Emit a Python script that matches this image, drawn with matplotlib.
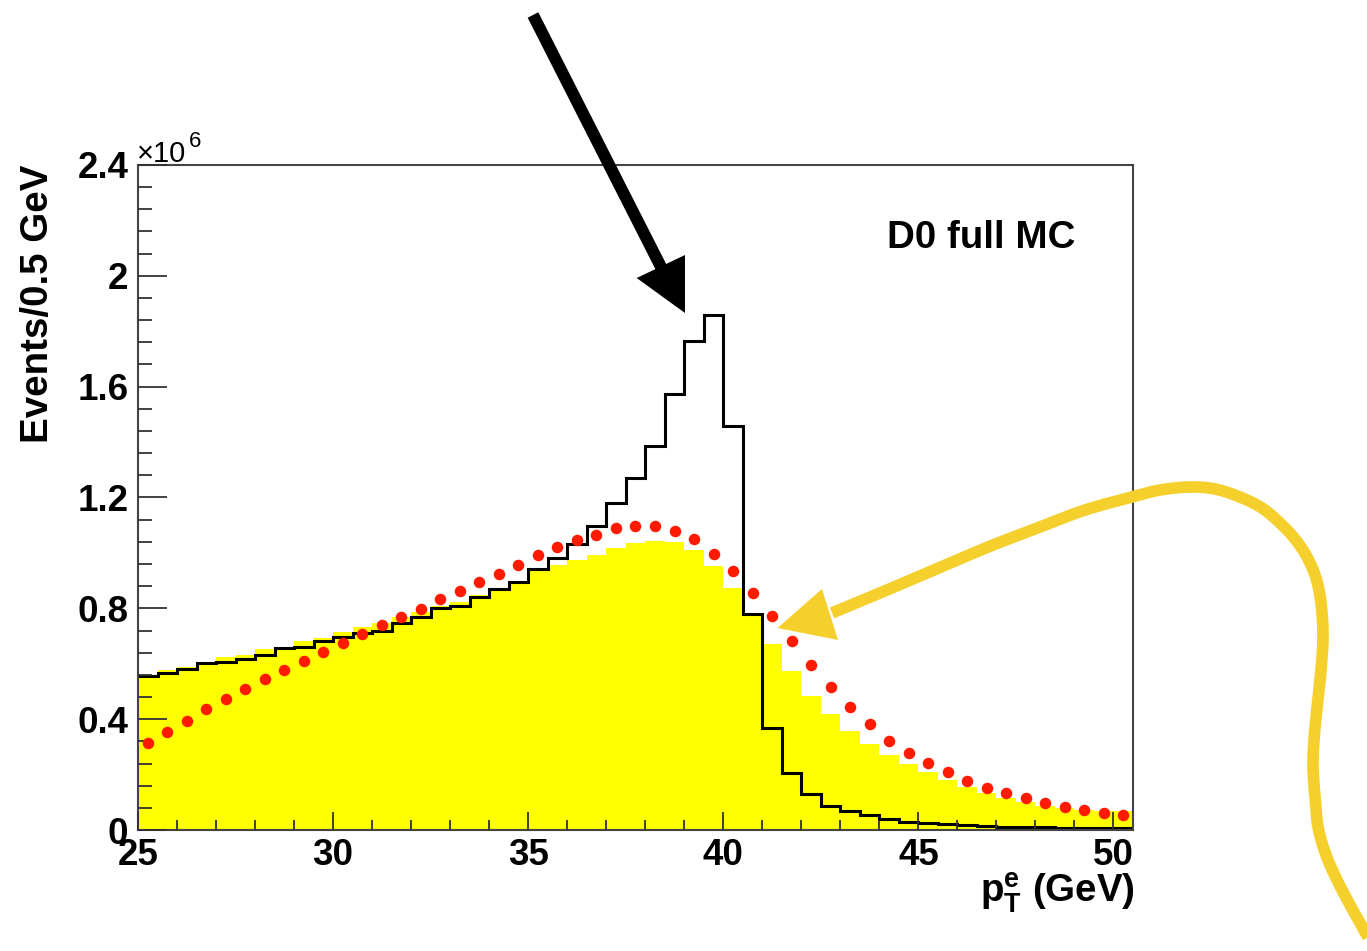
import numpy as np
import matplotlib
matplotlib.use("Agg")
import matplotlib.pyplot as plt
from matplotlib.patches import Polygon

plt.rcParams['font.family'] = ['Liberation Sans', 'DejaVu Sans']
plt.rcParams['font.weight'] = 'bold'
plt.rcParams['mathtext.fontset'] = 'custom'
plt.rcParams['mathtext.rm'] = 'Liberation Sans'
plt.rcParams['mathtext.bf'] = 'Liberation Sans:bold'

# 0.5 GeV bins from 25 to 50.5 GeV, values in units of 10^6 events
bin_lo = 25.0
bin_w = 0.5
n_bins = 51

# full MC, black outline histogram
full_mc = [0.556, 0.565, 0.580, 0.604, 0.607, 0.616, 0.632, 0.656, 0.662, 0.683,
           0.698, 0.710, 0.719, 0.746, 0.768, 0.800, 0.808, 0.840, 0.869, 0.896,
           0.943, 0.982, 1.031, 1.098, 1.179, 1.270, 1.385, 1.572, 1.766, 1.860,
           1.459, 0.780, 0.367, 0.207, 0.129, 0.087, 0.070, 0.054, 0.039, 0.030,
           0.024, 0.020, 0.017, 0.014, 0.012, 0.011, 0.010, 0.009, 0.008, 0.007, 0.007]

# yellow filled histogram
filled = [0.556, 0.577, 0.587, 0.604, 0.625, 0.632, 0.652, 0.659, 0.682, 0.692,
          0.713, 0.734, 0.748, 0.768, 0.788, 0.808, 0.824, 0.848, 0.872, 0.890,
          0.935, 0.955, 0.975, 0.992, 1.016, 1.034, 1.044, 1.040, 1.009, 0.954,
          0.872, 0.775, 0.671, 0.574, 0.485, 0.418, 0.357, 0.310, 0.271, 0.238,
          0.209, 0.180, 0.154, 0.132, 0.114, 0.100, 0.088, 0.078, 0.072, 0.070, 0.068]

# red dotted distribution (bin centres)
dotted = [0.313, 0.355, 0.394, 0.435, 0.471, 0.509, 0.544, 0.577, 0.611, 0.644,
          0.674, 0.707, 0.740, 0.770, 0.798, 0.834, 0.864, 0.894, 0.924, 0.957,
          0.992, 1.021, 1.047, 1.063, 1.089, 1.096, 1.096, 1.079, 1.051, 0.996,
          0.933, 0.856, 0.772, 0.683, 0.595, 0.517, 0.445, 0.381, 0.322, 0.279,
          0.241, 0.208, 0.177, 0.153, 0.132, 0.114, 0.099, 0.082, 0.072, 0.062, 0.053]

y_ticks = [0, 0.4, 0.8, 1.2, 1.6, 2.0, 2.4]
y_labels = ['0', '0.4', '0.8', '1.2', '1.6', '2', '2.4']
x_ticks = [25, 30, 35, 40, 45, 50]

# annotation arrows, in image pixels
black_shaft = [(533, 15), (661, 267)]
black_head = [(636.7, 278), (685, 255), (685, 313)]
yellow_path = [(832, 613), (880, 593), (915, 578), (955, 561), (993, 545),
               (1040, 527), (1085, 510), (1132, 497), (1160, 490), (1190, 487),
               (1215, 489), (1240, 497), (1262, 508), (1280, 523), (1295, 539),
               (1307, 557), (1316, 578), (1321, 603), (1323, 635), (1321, 670),
               (1317, 707), (1314, 740), (1313, 767), (1315, 797), (1318, 827),
               (1326, 855), (1337, 880), (1350, 905), (1364, 930), (1372, 945)]
yellow_head = [(777.5, 628), (822, 589), (838, 640)]

W, H = 1367, 951


def catmull_rom(pts, n=20):
    p = np.array(pts, dtype=float)
    p = np.vstack([p[0], p, p[-1]])
    out = []
    for i in range(1, len(p) - 2):
        p0, p1, p2, p3 = p[i - 1], p[i], p[i + 1], p[i + 2]
        t = np.linspace(0, 1, n)[:, None]
        seg = 0.5 * ((2 * p1) + (-p0 + p2) * t + (2 * p0 - 5 * p1 + 4 * p2 - p3) * t ** 2
                     + (-p0 + 3 * p1 - 3 * p2 + p3) * t ** 3)
        out.append(seg)
    return np.vstack(out)


def main():
    edges = bin_lo + bin_w * np.arange(n_bins + 1)
    centres = edges[:-1] + bin_w / 2

    fig = plt.figure(figsize=(W / 100, H / 100), dpi=100)
    ax = fig.add_axes([138 / W, 1 - 830 / H, (1133 - 138) / W, (830 - 165) / H])

    ax.stairs(filled, edges, fill=True, color='#ffff00', zorder=1)
    ax.stairs(full_mc, edges, color='black', lw=2.2, baseline=None, zorder=2)
    ax.plot(centres, dotted, 'o', color='#ff1a00', ms=8.3, mew=0, zorder=3)

    ax.set_xlim(25, 50.5)
    ax.set_ylim(0, 2.4)
    ax.set_xticks(x_ticks)
    ax.set_xticks(np.arange(25, 51, 1), minor=True)
    ax.set_yticks(y_ticks)
    ax.set_yticklabels(y_labels)
    ax.set_yticks(np.arange(0, 2.41, 0.08), minor=True)
    ax.tick_params(axis='both', which='both', direction='in', color='#333333', width=1.3,
                   labelsize=26.5)
    ax.tick_params(axis='y', which='major', length=21, pad=7)
    ax.tick_params(axis='y', which='minor', length=10)
    ax.tick_params(axis='x', which='major', length=13, pad=6)
    ax.tick_params(axis='x', which='minor', length=7)
    for s in ax.spines.values():
        s.set_color('#444444')
        s.set_linewidth(1.5)
    ax.set_axisbelow(False)

    # overlay in pixel coordinates for titles and arrows
    ov = fig.add_axes([0, 0, 1, 1], facecolor='none')
    ov.set_xlim(0, W)
    ov.set_ylim(H, 0)
    ov.axis('off')

    ov.text(1075, 238, 'D0 full MC', fontsize=27.7, ha='right', va='center')
    ov.text(38, 165, 'Events/0.5 GeV', fontsize=27.7, rotation=90, ha='center', va='top')
    ov.text(137, 162, '\u00d710', fontsize=21, ha='left', va='baseline', fontweight='normal')
    ov.text(189, 147, '6', fontsize=16, ha='left', va='baseline', fontweight='normal')
    ov.text(1135, 902, r'$\mathbf{p_{T}^{e}}$ (GeV)', fontsize=27.7, ha='right',
            va='baseline')

    xs, ys = zip(*black_shaft)
    ov.plot(xs, ys, color='black', lw=8.6, solid_capstyle='butt')
    ov.add_patch(Polygon(black_head, closed=True, color='black', lw=0))

    curve = catmull_rom(yellow_path)
    ov.plot(curve[:, 0], curve[:, 1], color='#f5d02c', lw=8.4, solid_capstyle='butt',
            solid_joinstyle='round')
    ov.add_patch(Polygon(yellow_head, closed=True, color='#f5d02c', lw=0))

    fig.savefig('out.png', dpi=100)


if __name__ == "__main__":
    main()
